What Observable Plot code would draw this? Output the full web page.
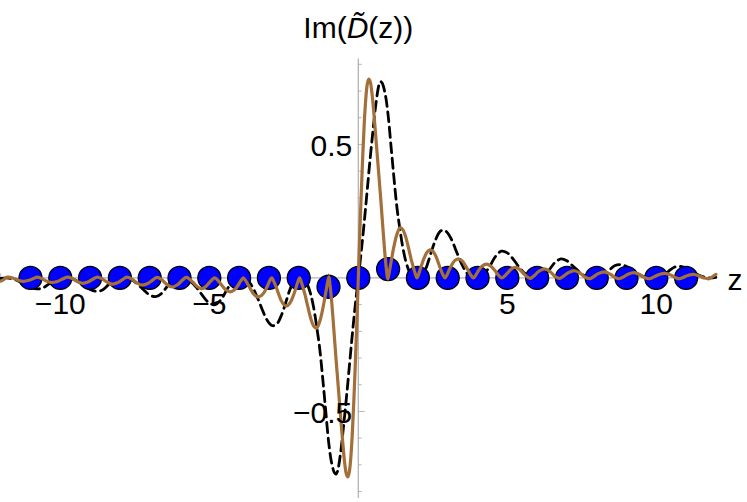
<!DOCTYPE html>
<html>
<head>
<meta charset="utf-8">
<script src="https://cdn.jsdelivr.net/npm/d3@7"></script>
<script src="https://cdn.jsdelivr.net/npm/@observablehq/plot@0.6"></script>
<style>
  html, body { margin: 0; padding: 0; background: #fff; }
  #chart { width: 747px; height: 502px; }
</style>
</head>
<body>
<div id="chart"></div>
<script>
// ---- Data ----
// dashed black curve
const dashZ = [-12.0,-11.8,-11.6,-11.4,-11.2,-11.0,-10.8,-10.6,-10.4,-10.2,-10.0,-9.8,-9.6,-9.4,-9.2,-9.0,-8.8,-8.6,-8.4,-8.2,-8.0,-7.8,-7.6,-7.4,-7.2,-7.0,-6.8,-6.6,-6.4,-6.2,-6.0,-5.8,-5.6,-5.4,-5.2,-5.0,-4.8,-4.6,-4.4,-4.2,-4.0,-3.9,-3.8,-3.7,-3.6,-3.5,-3.4,-3.3,-3.2,-3.1,-3.0,-2.9,-2.8,-2.7,-2.6,-2.5,-2.4,-2.3,-2.2,-2.1,-2.0,-1.9,-1.8,-1.7,-1.6,-1.5,-1.4,-1.3,-1.2,-1.1,-1.0,-0.9,-0.8,-0.75,-0.7,-0.6,-0.5,-0.4,-0.3,-0.2,-0.1,
  0,0.1,0.2,0.3,0.4,0.5,0.6,0.7,0.75,0.8,0.9,1.0,1.1,1.2,1.3,1.4,1.5,1.6,1.7,1.8,1.9,2.0,2.1,2.2,2.3,2.4,2.5,2.6,2.7,2.8,2.9,3.0,3.1,3.2,3.3,3.4,3.5,3.6,3.7,3.8,3.9,4.0,4.2,4.4,4.6,4.8,5.0,5.2,5.4,5.6,5.8,6.0,6.2,6.4,6.6,6.8,7.0,7.2,7.4,7.6,7.8,8.0,8.2,8.4,8.6,8.8,9.0,9.2,9.4,9.6,9.8,10.0,10.2,10.4,10.6,10.8,11.0,11.2,11.4,11.6,11.8,12.0];
const dashV = [-0.002,0,-0.004,-0.012,-0.024,-0.036,-0.041,-0.038,-0.024,-0.006,0,0,-0.004,-0.014,-0.029,-0.043,-0.05,-0.046,-0.027,-0.007,0,-0.001,-0.008,-0.024,-0.045,-0.064,-0.07,-0.058,-0.03,-0.008,0,-0.003,-0.016,-0.04,-0.07,-0.094,-0.1,-0.08,-0.042,-0.012,0,0,-0.003,-0.011,-0.025,-0.045,-0.07,-0.097,-0.125,-0.15,-0.168,-0.178,-0.178,-0.168,-0.145,-0.115,-0.08,-0.045,-0.02,-0.005,0,-0.001,-0.008,-0.027,-0.06,-0.11,-0.18,-0.26,-0.37,-0.49,-0.61,-0.69,-0.73,-0.735,-0.725,-0.66,-0.56,-0.45,-0.33,-0.21,-0.10,
  0,0.10,0.21,0.33,0.45,0.56,0.66,0.725,0.735,0.73,0.69,0.61,0.49,0.37,0.26,0.18,0.11,0.06,0.027,0.008,0.001,0,0.005,0.02,0.045,0.08,0.115,0.145,0.168,0.178,0.178,0.168,0.15,0.125,0.097,0.07,0.045,0.025,0.011,0.003,0,0,0.012,0.042,0.08,0.1,0.094,0.07,0.04,0.016,0.003,0,0.008,0.03,0.058,0.071,0.064,0.045,0.024,0.008,0.001,0,0.007,0.027,0.046,0.05,0.043,0.029,0.014,0.004,0,0,0.006,0.024,0.04,0.043,0.036,0.024,0.012,0.004,0,0.002];

// solid brown curve
const brownZ = [-12.0,-11.9,-11.77,-11.6,-11.45,-11.25,-11.05,-10.92,-10.77,-10.63,-10.5,-10.3,-10.1,-9.92,-9.77,-9.6,-9.45,-9.26,-9.05,-8.9,-8.76,-8.6,-8.45,-8.26,-8.05,-7.9,-7.76,-7.6,-7.45,-7.26,-7.05,-6.9,-6.75,-6.6,-6.45,-6.25,-6.05,-5.9,-5.77,-5.67,-5.55,-5.4,-5.27,-5.15,-5.05,-4.92,-4.82,-4.72,-4.6,-4.45,-4.3,-4.15,-4.05,-3.95,-3.86,-3.78,-3.7,-3.6,-3.5,-3.38,-3.25,-3.15,-3.05,-2.97,-2.91,-2.8,-2.7,-2.6,-2.5,-2.4,-2.3,-2.2,-2.1,-2.02,-1.97,-1.9,-1.8,-1.7,-1.6,-1.5,-1.4,-1.3,-1.2,-1.1,-1.02,-0.985,-0.95,-0.9,-0.85,-0.8,-0.75,-0.7,-0.65,-0.6,-0.55,-0.5,-0.45,-0.4,-0.35,-0.3,-0.25,-0.2,-0.15,-0.1,-0.05,
  0,0.05,0.1,0.15,0.2,0.25,0.3,0.35,0.4,0.45,0.5,0.55,0.6,0.65,0.7,0.75,0.8,0.85,0.9,0.95,0.985,1.02,1.1,1.2,1.3,1.4,1.5,1.6,1.7,1.8,1.9,1.97,2.02,2.1,2.2,2.3,2.4,2.5,2.6,2.7,2.8,2.91,2.97,3.05,3.15,3.25,3.38,3.5,3.6,3.7,3.78,3.86,3.95,4.05,4.15,4.3,4.45,4.6,4.72,4.82,4.92,5.05,5.15,5.27,5.4,5.55,5.67,5.77,5.9,6.05,6.25,6.45,6.6,6.75,6.9,7.05,7.26,7.45,7.6,7.76,7.9,8.05,8.26,8.45,8.6,8.76,8.9,9.05,9.26,9.45,9.6,9.77,9.92,10.1,10.3,10.5,10.63,10.77,10.92,11.05,11.25,11.45,11.6,11.77,11.9,12.0];
const brownV = [-0.012,-0.006,0.003,0,-0.007,-0.013,-0.009,-0.003,0.003,-0.002,-0.01,-0.017,-0.013,-0.004,0.003,-0.002,-0.012,-0.02,-0.014,-0.004,0.003,-0.003,-0.014,-0.023,-0.016,-0.005,0.003,-0.004,-0.017,-0.027,-0.02,-0.008,0.002,-0.006,-0.022,-0.034,-0.024,-0.008,0.002,-0.004,-0.016,-0.033,-0.04,-0.035,-0.024,-0.008,0,-0.008,-0.025,-0.044,-0.052,-0.044,-0.03,-0.012,0,-0.01,-0.025,-0.045,-0.062,-0.071,-0.066,-0.052,-0.03,-0.01,0,-0.022,-0.052,-0.082,-0.1,-0.105,-0.095,-0.072,-0.04,-0.012,0,-0.02,-0.058,-0.105,-0.15,-0.18,-0.188,-0.165,-0.12,-0.06,-0.01,0.004,-0.025,-0.08,-0.15,-0.225,-0.30,-0.37,-0.44,-0.51,-0.58,-0.645,-0.70,-0.735,-0.745,-0.725,-0.67,-0.58,-0.46,-0.32,-0.17,
  0,0.17,0.32,0.46,0.58,0.67,0.725,0.745,0.735,0.70,0.645,0.58,0.51,0.44,0.37,0.30,0.225,0.15,0.08,0.025,-0.004,0.01,0.06,0.12,0.165,0.188,0.18,0.15,0.105,0.058,0.02,0,0.012,0.04,0.072,0.095,0.105,0.1,0.082,0.052,0.022,0,0.01,0.03,0.052,0.066,0.071,0.062,0.045,0.025,0.01,0,0.012,0.03,0.044,0.052,0.044,0.025,0.008,0,0.008,0.024,0.035,0.04,0.033,0.016,0.004,-0.002,0.008,0.024,0.034,0.022,0.006,-0.002,0.008,0.02,0.027,0.017,0.004,-0.003,0.005,0.016,0.023,0.014,0.003,-0.003,0.004,0.014,0.02,0.012,0.002,-0.003,0.004,0.013,0.017,0.01,0.002,-0.003,0.003,0.009,0.013,0.007,0,-0.003,0.006,0.013];

// blue points at integers
const pointZ = [-11,-10,-9,-8,-7,-6,-5,-4,-3,-2,-1,0,1,2,3,4,5,6,7,8,9,10,11];
const pointV = [0,0,0,0,0,0,0,0,0,0,-0.033,0,0.033,0,0,0,0,0,0,0,0,0,0];

// ticks
const xTickLabels = [-10, -5, 5, 10];
const xMinorTicks = [-12,-11,-10,-9,-8,-7,-6,-5,-4,-3,-2,-1,1,2,3,4,5,6,7,8,9,10,11,12];
const yTickLabels = [-0.5, 0.5];
const yMinorTicks = [-0.8,-0.7,-0.6,-0.5,-0.4,-0.3,-0.2,-0.1,0.1,0.2,0.3,0.4,0.5,0.6,0.7,0.8];
const yLabel = "Im(D\u0303(z))";
const xLabel = "z";

// ---- Build tables ----
const dashed = dashZ.map((z, i) => ({z, v: dashV[i]}));
const brown = brownZ.map((z, i) => ({z, v: brownV[i]}));
const points = pointZ.map((z, i) => ({z, v: pointV[i]}));

const fmt = d => (d < 0 ? "\u2212" : "") + Math.abs(d);
const axisColor = "#b3b3b3";
const font = "'Liberation Sans', Arial, Helvetica, sans-serif";

const chart = Plot.plot({
  width: 747,
  height: 502,
  margin: 0,
  style: {fontFamily: font, background: "white", overflow: "visible"},
  x: {domain: [-12.007, 13.06], axis: null},
  y: {domain: [-0.841, 1.039], axis: null},
  marks: [
    // axes
    Plot.ruleY([0], {x1: -12, x2: 12, stroke: axisColor, strokeWidth: 1.3}),
    Plot.ruleX([0], {y1: -0.826, y2: 0.82, stroke: axisColor, strokeWidth: 1.3}),
    Plot.ruleX(xMinorTicks, {x: d => d, y1: 0, y2: d => (d % 5 === 0 ? 0.024 : 0.015), stroke: axisColor, strokeWidth: 1}),
    Plot.ruleY(yMinorTicks, {y: d => d, x1: 0, x2: d => (Math.abs(Math.abs(d) - 0.5) < 1e-9 ? 0.23 : 0.13), stroke: axisColor, strokeWidth: 1}),
    // curves and points
    Plot.line(dashed, {x: "z", y: "v", stroke: "black", strokeWidth: 2.8, strokeDasharray: "10,5.5", curve: "catmull-rom"}),
    Plot.dot(points, {x: "z", y: "v", r: 11.5, fill: "#0000ff", stroke: "black", strokeWidth: 1.3}),
    Plot.line(brown, {x: "z", y: "v", stroke: "#a3703a", strokeWidth: 3.2, curve: "catmull-rom"}),
    // tick labels
    Plot.text(xTickLabels, {x: d => d, y: () => 0, text: fmt, dy: 26, lineAnchor: "middle", fontSize: 30, fill: "black"}),
    Plot.text(yTickLabels, {x: () => 0, y: d => d, text: fmt, dx: -6, dy: 2, textAnchor: "end", lineAnchor: "middle", fontSize: 30, fill: "black"}),
    // axis labels
    Plot.text([yLabel], {x: () => 0, frameAnchor: "top", text: d => d, dy: 28, lineAnchor: "middle", fontSize: 30, fill: "black"}),
    Plot.text([xLabel], {y: () => 0, frameAnchor: "right", text: d => d, dx: -5, dy: 2, textAnchor: "end", lineAnchor: "middle", fontSize: 30, fill: "black"})
  ]
});

// italic D with tilde in the y label
d3.select(chart).selectAll("text").filter(function() { return this.textContent === yLabel; }).each(function() {
  const t = d3.select(this);
  t.text(null);
  t.append("tspan").text("Im(");
  t.append("tspan").attr("font-style", "italic").text("D\u0303");
  t.append("tspan").text("(z))");
});

document.getElementById("chart").appendChild(chart);
</script>
</body>
</html>
